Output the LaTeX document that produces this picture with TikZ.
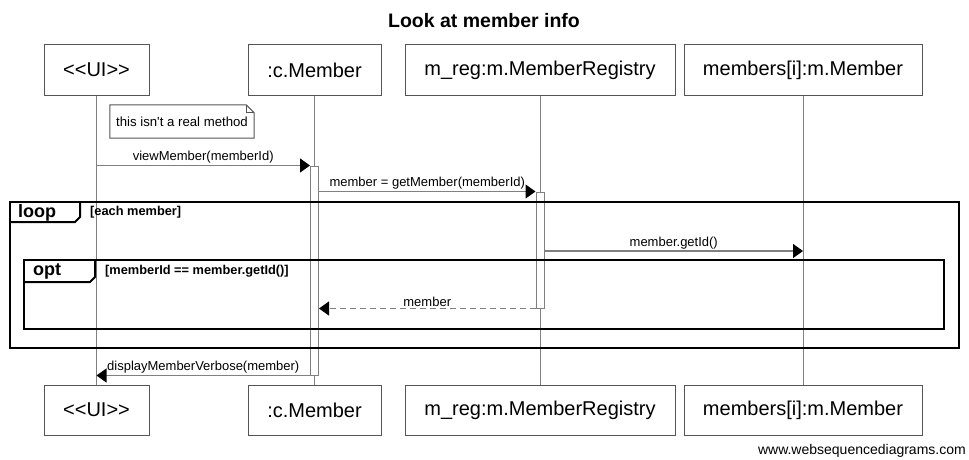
\documentclass[tikz,border=0pt]{standalone}
\usepackage{fontspec}
\setmainfont{Liberation Sans}
\usetikzlibrary{arrows.meta}
\definecolor{lgray}{HTML}{808080}
\definecolor{bgray}{HTML}{555555}
\tikzset{
 participant/.style={draw=bgray, line width=1pt, minimum height=50pt, inner sep=0pt, font=\fontsize{20}{24}\selectfont},
 lifeline/.style={draw=lgray, line width=1pt},
 actbar/.style={draw=lgray, fill=white, line width=1pt, minimum width=8pt, inner sep=0pt},
 msg/.style={draw=lgray, line width=1.2pt, -{Triangle[length=10pt,width=14pt,color=black]}},
 ret/.style={msg, dash pattern=on 6pt off 4pt},
 msglabel/.style={font=\fontsize{13}{15}\selectfont, inner sep=1.5pt, anchor=south},
 frameline/.style={draw=black, line width=2pt},
 framelabel/.style={font=\bfseries\fontsize{18}{20}\selectfont, anchor=west, inner sep=0pt},
 guard/.style={font=\bfseries\fontsize{12.8}{15}\selectfont, anchor=west, inner sep=0pt},
 notebox/.style={font=\fontsize{13.2}{15}\selectfont, minimum width=144pt, minimum height=33pt, inner sep=0pt},
 notefold/.style={draw=bgray, line width=1pt},
}
\begin{document}
\begin{tikzpicture}[x=1pt,y=-1pt]
\useasboundingbox[fill=white] (0,0) rectangle (969,460);
% title
\node[font=\bfseries\fontsize{19.5}{23}\selectfont] (title) at (484,21) {Look at member info};
% participants top
\node[participant, minimum width=105pt] (ui) at (96.5,70) {<\kern0pt<UI>\kern0pt>};
\node[participant, minimum width=133pt] (cm) at (314.5,70) {:c.Member};
\node[participant, minimum width=270pt] (mr) at (540,70) {m\_reg:m.MemberRegistry};
\node[participant, minimum width=238pt] (mm) at (803,70) {members[i]:m.Member};
% participants bottom
\node[participant, minimum width=105pt] (uib) at (96.5,410) {<\kern0pt<UI>\kern0pt>};
\node[participant, minimum width=133pt] (cmb) at (314.5,410) {:c.Member};
\node[participant, minimum width=270pt] (mrb) at (540,410) {m\_reg:m.MemberRegistry};
\node[participant, minimum width=238pt] (mmb) at (803,410) {members[i]:m.Member};
% lifelines
\draw[lifeline] (ui.south) -- (uib.north);
\draw[lifeline] (cm.south) -- (cmb.north);
\draw[lifeline] (mr.south) -- (mrb.north);
\draw[lifeline] (mm.south) -- (mmb.north);
% note
\node[notebox] (note) at (182,121.5) {};
\draw[notefold, fill=white] (note.north west) -- ([xshift=-8pt]note.north east) -- ([yshift=-8pt]note.north east) -- (note.south east) -- (note.south west) -- cycle;
\draw[notefold] ([xshift=-8pt]note.north east) -- ([xshift=-8pt,yshift=-8pt]note.north east) -- ([yshift=-8pt]note.north east);
\node[notebox] (notetext) at (note.center) {this isn\textquotesingle t a real method};
% activation bars
\node[actbar, minimum height=209pt] (act1) at (314.5,270.5) {};
\node[actbar, minimum height=116pt] (act2) at (540,250) {};
% messages
\coordinate (m1s) at (ui.south |- act1.north west);
\draw[msg] (m1s) -- (act1.north west) node[msglabel, midway] {viewMember(memberId)};
\coordinate (m2s) at (act1.east |- act2.north);
\draw[msg] (m2s) -- (act2.north west) node[msglabel, midway] {member = getMember(memberId)};
\coordinate (m3s) at (act2.east |- 0,251);
\coordinate (m3e) at (mm.south |- 0,251);
\draw[msg] (m3s) -- (m3e) node[msglabel, midway] {member.getId()};
\coordinate (m4e) at (act1.east |- act2.south);
\draw[ret] (act2.south west) -- (m4e) node[msglabel, midway] {member};
\coordinate (m5e) at (ui.south |- act1.south west);
\draw[msg] (act1.south west) -- (m5e) node[msglabel, midway] {displayMemberVerbose(member)};
% loop frame
\coordinate (loopnw) at (10,202);
\coordinate (loopse) at (959,348);
\draw[frameline] (loopnw) rectangle (loopse);
\draw[frameline] (10,222) -- (75,222) -- (80,217) -- (80,202);
\node[framelabel] (looplbl) at (18,212.5) {loop};
\node[guard] (loopguard) at (90,212) {[each member]};
% opt frame
\coordinate (optnw) at (24,260);
\coordinate (optse) at (944,329);
\draw[frameline] (optnw) rectangle (optse);
\draw[frameline] (24,282) -- (90,282) -- (95,277) -- (95,260);
\node[framelabel] (optlbl) at (33,271) {opt};
\node[guard] (optguard) at (105,271) {[memberId == member.getId()]};
% watermark
\node[font=\fontsize{14}{16}\selectfont, anchor=east, inner sep=0pt] (wm) at (966,451) {www.websequencediagrams.com};
\end{tikzpicture}
\end{document}
